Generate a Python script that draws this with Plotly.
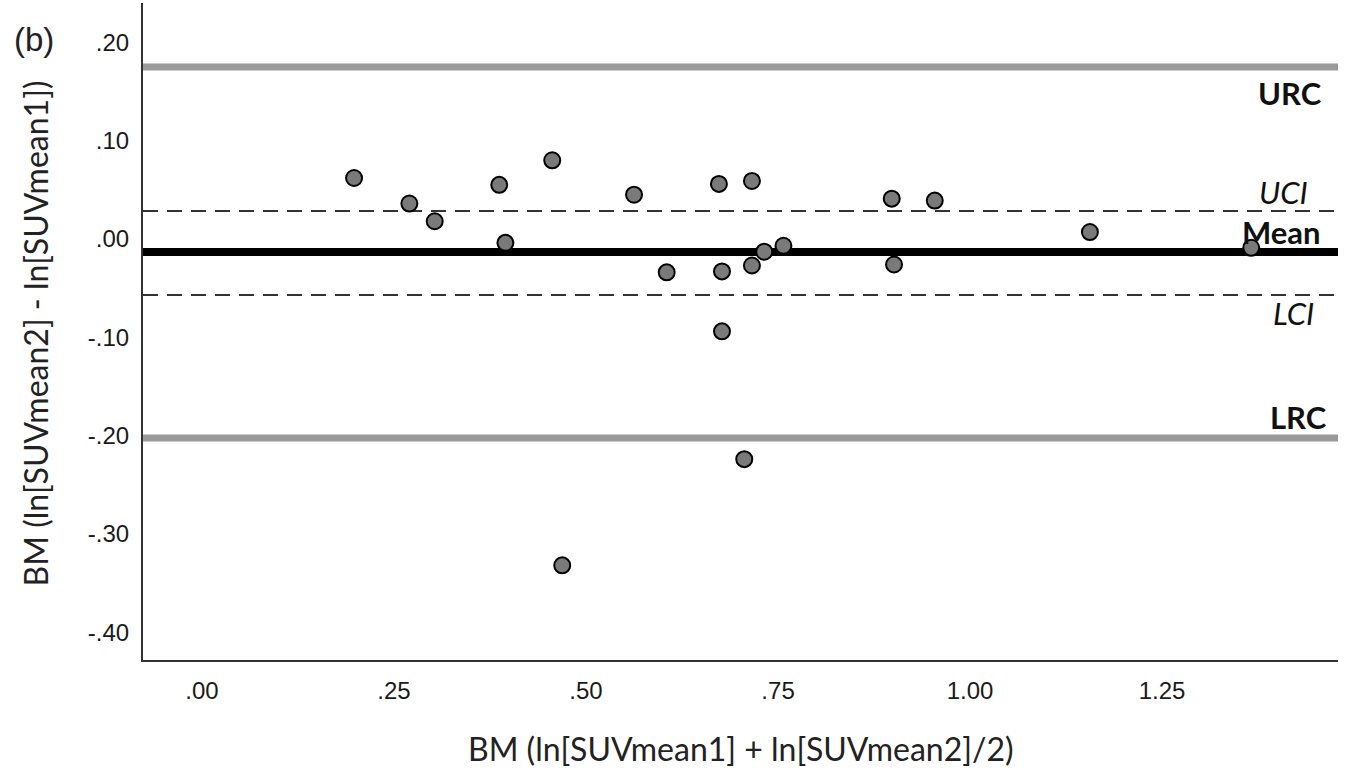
import plotly.graph_objects as go

# ---- data ----
mean_x = [0.198, 0.270, 0.303, 0.387, 0.395, 0.456, 0.469, 0.5625, 0.605, 0.673, 0.677,
          0.677, 0.716, 0.716, 0.706, 0.732, 0.757, 0.898, 0.901, 0.954, 1.156, 1.366]
diff_y = [0.062, 0.036, 0.018, 0.055, -0.004, 0.080, -0.332, 0.045, -0.034, 0.056, -0.033,
          -0.094, 0.059, -0.027, -0.224, -0.013, -0.007, 0.041, -0.026, 0.039, 0.007, -0.009]

URC = 0.175
UCI = 0.0285
MEAN = -0.0132
LCI = -0.057
LRC = -0.2025

x_tickvals = [0.0, 0.25, 0.5, 0.75, 1.0, 1.25]
x_ticktext = [".00", ".25", ".50", ".75", "1.00", "1.25"]
y_tickvals = [0.2, 0.1, 0.0, -0.1, -0.2, -0.3, -0.4]
y_ticktext = [".20", ".10", ".00", "-.10", "-.20", "-.30", "-.40"]

TICK_FONT = dict(family="Liberation Sans, Arial, sans-serif", size=24, color="#1a1a1a")
TITLE_FAMILY = "Lato, Open Sans, sans-serif"

fig = go.Figure()

# reference lines (full width of the plot)
for val, color, width, dash in [
    (URC, "#9a9a9a", 7, "solid"),
    (LRC, "#9a9a9a", 7, "solid"),
    (UCI, "#333333", 2, "15px,9px"),
    (LCI, "#333333", 2, "15px,9px"),
    (MEAN, "#000000", 8, "solid"),
]:
    fig.add_shape(type="line", xref="paper", yref="y", x0=0, x1=1, y0=val, y1=val,
                  line=dict(color=color, width=width, dash=dash), layer="below")

fig.add_trace(go.Scatter(
    x=mean_x, y=diff_y, mode="markers",
    marker=dict(size=16, color="#7a7a7a", line=dict(color="#000000", width=2)),
    showlegend=False, hoverinfo="x+y",
))

labels = [
    ("URC", 1.416, URC - 0.0265, "bold", "normal"),
    ("UCI", 1.408, UCI + 0.0195, "normal", "italic"),
    ("Mean", 1.406, MEAN + 0.020, "bold", "normal"),
    ("LCI", 1.421, LCI - 0.018, "normal", "italic"),
    ("LRC", 1.427, LRC + 0.0215, "bold", "normal"),
]
for txt, lx, ly, weight, style in labels:
    fig.add_annotation(x=lx, y=ly, xref="x", yref="y", text=txt, showarrow=False,
                       xanchor="center", yanchor="middle",
                       font=dict(family=TITLE_FAMILY, size=31, color="#111111",
                                 weight=weight, style=style))

# axis titles and panel label
fig.add_annotation(xref="paper", yref="paper", x=0.5, y=-0.134,
                   text="BM (ln[SUVmean1] + ln[SUVmean2]/2)", showarrow=False,
                   xanchor="center", yanchor="middle",
                   font=dict(family=TITLE_FAMILY, size=32, color="#222222"))
fig.add_annotation(xref="paper", yref="paper", x=-0.0904, y=0.497,
                   text="BM (ln[SUVmean2] - ln[SUVmean1])", showarrow=False,
                   textangle=-90, xanchor="center", yanchor="middle",
                   font=dict(family=TITLE_FAMILY, size=32, color="#222222"))
fig.add_annotation(xref="paper", yref="paper", x=-0.0915, y=0.944,
                   text="(b)", showarrow=False, xanchor="center", yanchor="middle",
                   font=dict(family="Liberation Sans, Arial, sans-serif", size=33,
                             color="#222222"))

fig.update_layout(
    width=1359, height=774,
    margin=dict(l=143, r=21, t=3, b=114),
    paper_bgcolor="white", plot_bgcolor="white",
    xaxis=dict(range=[-0.0768, 1.479], tickvals=x_tickvals, ticktext=x_ticktext,
               showgrid=False, zeroline=False, showline=True, linecolor="#333333",
               linewidth=2, ticks="", tickfont=TICK_FONT, ticklabelstandoff=8),
    yaxis=dict(range=[-0.4283, 0.240], tickvals=y_tickvals, ticktext=y_ticktext,
               showgrid=False, zeroline=False, showline=True, linecolor="#333333",
               linewidth=2, ticks="", tickfont=TICK_FONT, ticklabelstandoff=7),
)

fig.write_html(
    "out.html",
    config={"displayModeBar": False},
    post_script="document.body.style.margin='0';document.body.style.padding='0';"
                "document.body.style.overflow='hidden';",
)
